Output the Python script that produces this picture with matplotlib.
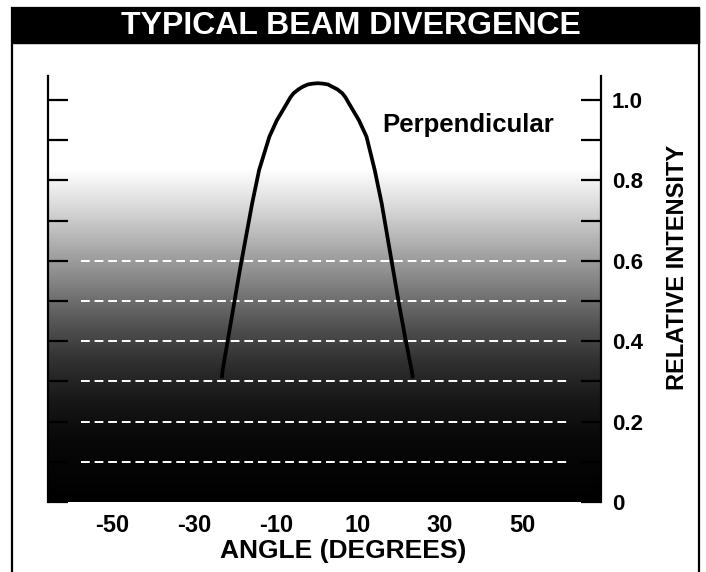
import numpy as np
import matplotlib
matplotlib.use("Agg")
import matplotlib.pyplot as plt
from matplotlib.colors import LinearSegmentedColormap
from matplotlib.patches import Rectangle

plt.rcParams['font.family'] = ['Liberation Sans', 'DejaVu Sans']

# ---- data ----
title = "TYPICAL BEAM DIVERGENCE"
x_label = "ANGLE (DEGREES)"
y_label = "RELATIVE INTENSITY"
series_name = "Perpendicular"

angles = [-23.2, -23.0, -21.6, -20.2, -18.8, -17.3, -15.8, -14.1, -11.6, -9.76,
          -7.32, -6.46, -5.71, -4.46, -3.51, -2.20, -1.02, 0.24, 1.51, 2.68,
          3.80, 4.95, 6.20, 6.95, 7.80, 10.24, 12.1, 14.1, 15.8, 17.2, 18.6,
          20.0, 21.5, 23.1, 23.4]
intensity = [0.308, 0.328, 0.411, 0.494, 0.577, 0.660, 0.743, 0.826, 0.909, 0.950,
             0.992, 1.007, 1.017, 1.027, 1.033, 1.039, 1.041, 1.042, 1.041, 1.039,
             1.033, 1.027, 1.017, 1.007, 0.992, 0.950, 0.909, 0.826, 0.743, 0.660,
             0.577, 0.494, 0.411, 0.328, 0.308]

x_ticks = [-50, -30, -10, 10, 30, 50]
x_ticklabels = ["-50", "-30", "-10", "10", "30", "50"]
y_ticks = [0, 0.1, 0.2, 0.3, 0.4, 0.5, 0.6, 0.7, 0.8, 0.9, 1.0]
y_ticklabels = ["0", "", "0.2", "", "0.4", "", "0.6", "", "0.8", "", "1.0"]
grid_levels = [0.1, 0.2, 0.3, 0.4, 0.5, 0.6]
grid_span = [-57.5, 61.0]

xlim = (-65.6, 69.3)
ylim = (0.0, 1.06)

# ---- figure ----
W, H = 706, 572
fig = plt.figure(figsize=(W / 100, H / 100), dpi=100)


def fx(px):
    return px / W


def fy(py):
    return 1 - py / H


frame = Rectangle((fx(12), fy(575)), fx(699) - fx(12), fy(8) - fy(575),
                  transform=fig.transFigure, fill=False, lw=1.6,
                  edgecolor='black', zorder=0)
fig.patches.append(frame)
bar = Rectangle((fx(12), fy(43)), fx(699) - fx(12), fy(8) - fy(43),
                transform=fig.transFigure, facecolor='black',
                edgecolor='black', zorder=0)
fig.patches.append(bar)
fig.text(fx(351), fy(26), title, color='white', fontsize=23,
         fontweight='bold', ha='center', va='center')

ax = fig.add_axes([fx(48), fy(502), fx(601) - fx(48), fy(76) - fy(502)])
ax.set_xlim(*xlim)
ax.set_ylim(*ylim)

# background gradient (white top -> black bottom)
stops = [(0.0, (0, 0, 0)), (0.15 / 1.06, (0.03,) * 3), (0.25 / 1.06, (0.09,) * 3),
         (0.35 / 1.06, (0.19,) * 3), (0.45 / 1.06, (0.34,) * 3),
         (0.55 / 1.06, (0.52,) * 3), (0.65 / 1.06, (0.70,) * 3),
         (0.74 / 1.06, (0.86,) * 3), (0.83 / 1.06, (1, 1, 1)), (1.0, (1, 1, 1))]
cmap = LinearSegmentedColormap.from_list("beam", stops)
grad = np.linspace(0, 1, 512).reshape(-1, 1)
ax.imshow(grad, cmap=cmap, aspect='auto', origin='lower',
          extent=[xlim[0], xlim[1], ylim[0], ylim[1]], zorder=0,
          interpolation='bilinear')

for lv in grid_levels:
    ax.plot(grid_span, [lv, lv], color='white', lw=1.4,
            linestyle=(0, (4.5, 2.5)), zorder=1)

ax.plot(angles, intensity, color='black', lw=2.7, zorder=3,
        solid_joinstyle='round', solid_capstyle='butt')

ax.text(16.0, 0.92, series_name, fontsize=18.5, fontweight='bold',
        ha='left', va='baseline', zorder=4)

# spines
for s in ['top', 'bottom']:
    ax.spines[s].set_visible(False)
for s in ['left', 'right']:
    ax.spines[s].set_linewidth(1.6)

ax.set_xticks(x_ticks)
ax.set_xticklabels(x_ticklabels, fontsize=17, fontweight='bold')
ax.tick_params(axis='x', length=0, pad=9)

ax.set_yticks(y_ticks)
ax.set_yticklabels(y_ticklabels, fontsize=16, fontweight='bold')
ax.tick_params(axis='y', direction='in', length=14.5, width=1.6,
               left=True, right=True, labelleft=False, labelright=True, pad=8)

fig.text(fx(343.5), fy(551), x_label, fontsize=19, fontweight='bold',
         ha='center', va='center')
fig.text(fx(677), fy(267), y_label, fontsize=17, fontweight='bold',
         ha='center', va='center', rotation=90)

fig.savefig("out.png", dpi=100)
